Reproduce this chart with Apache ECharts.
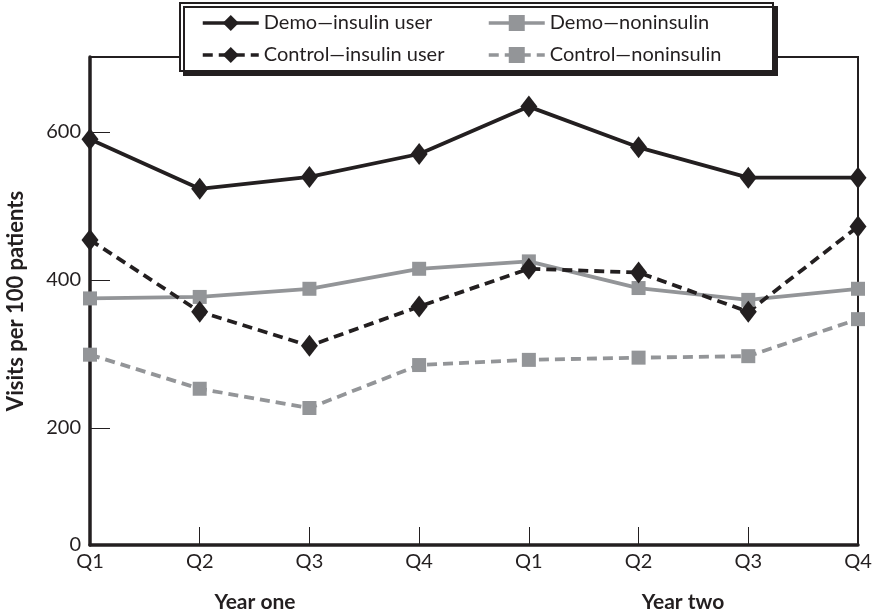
<!DOCTYPE html>
<html>
<head>
<meta charset="utf-8">
<script src="https://cdn.jsdelivr.net/npm/echarts@6/dist/echarts.min.js"></script>
<style>
  html, body { margin: 0; padding: 0; background: #fff; }
</style>
</head>
<body>
<div id="main" style="width: 873px;height:616px;"></div>
<script>
// categories and values
var quarters = ["Q1", "Q2", "Q3", "Q4", "Q1", "Q2", "Q3", "Q4"];
var yearLabels = ["Year one", "Year two"];
var demoInsulin = [590, 523, 539, 570, 634, 579, 538, 538];
var demoNoninsulin = [375, 377, 388, 415, 425, 389, 373, 388];
var controlInsulin = [454, 357, 311, 364, 415, 410, 357, 472];
var controlNoninsulin = [299, 253, 227, 285, 292, 295, 297, 347];
// the printed axis is squeezed below 200: its "0" sits where ~42 would be
var axisFloor = 42;
var axisTop = 701;
var yTicks = [200, 400, 600];

var black = "#231f20";
var gray = "#939598";
var font = "Lato";

var myChart = echarts.init(document.getElementById("main"));

function mkSeries(name, data, color, dashed, symbol, size) {
  return {
    name: name,
    type: "line",
    data: data,
    symbol: symbol,
    symbolSize: size,
    showSymbol: true,
    color: color,
    itemStyle: { color: color },
    lineStyle: { color: color, width: 3.8, type: dashed ? [10, 6] : "solid" },
    z: 3
  };
}

var legendText = { fontFamily: font, fontSize: 20, color: black };

var option = {
  animation: false,
  grid: {
    left: 90,
    right: 15,
    top: 57,
    bottom: 71,
    show: true,
    borderColor: black,
    borderWidth: 2,
    containLabel: false,
    outerBoundsMode: "none"
  },
  legend: [
    {
      data: ["Demo—insulin user", "Control—insulin user"],
      orient: "vertical",
      left: 196,
      top: 8,
      itemWidth: 56,
      itemHeight: 20,
      itemGap: 12,
      lineStyle: { width: 3.5 },
      textStyle: legendText,
      z: 7
    },
    {
      data: ["Demo—noninsulin", "Control—noninsulin"],
      orient: "vertical",
      left: 482,
      top: 8,
      itemWidth: 56,
      itemHeight: 20,
      itemGap: 12,
      lineStyle: { width: 3.5 },
      textStyle: legendText,
      z: 7
    }
  ],
  graphic: [
    {
      type: "rect",
      z: 6,
      shape: { x: 180, y: 3, width: 593, height: 68 },
      style: {
        fill: "#fff",
        stroke: black,
        lineWidth: 2,
        shadowColor: black,
        shadowOffsetX: 4,
        shadowOffsetY: 4,
        shadowBlur: 0
      }
    },
    {
      type: "text",
      x: 255,
      y: 602,
      style: {
        text: yearLabels[0],
        font: "bold 21px " + font,
        fill: black,
        align: "center",
        verticalAlign: "middle"
      }
    },
    {
      type: "text",
      x: 683,
      y: 602,
      style: {
        text: yearLabels[1],
        font: "bold 21px " + font,
        fill: black,
        align: "center",
        verticalAlign: "middle"
      }
    }
  ],
  xAxis: {
    type: "category",
    boundaryGap: false,
    data: quarters,
    axisLine: { lineStyle: { color: black, width: 3.5 } },
    axisTick: { inside: true, length: 18, lineStyle: { color: black, width: 1 } },
    axisLabel: { fontFamily: font, fontSize: 20, color: black, margin: 7 },
    splitLine: { show: false }
  },
  yAxis: {
    type: "value",
    min: axisFloor,
    max: axisTop,
    name: "Visits per 100 patients",
    nameLocation: "middle",
    nameGap: 63,
    nameTextStyle: { fontFamily: font, fontSize: 22, fontWeight: "bold", color: black },
    axisLine: { show: true, lineStyle: { color: black, width: 3.5 } },
    axisTick: {
      show: true,
      inside: true,
      length: 20,
      customValues: yTicks,
      lineStyle: { color: black, width: 1 }
    },
    axisLabel: {
      fontFamily: font,
      fontSize: 20,
      color: black,
      margin: 9,
      customValues: [axisFloor].concat(yTicks),
      formatter: function (v) {
        return v === axisFloor ? "0" : String(v);
      }
    },
    splitLine: { show: false }
  },
  series: [
    mkSeries("Demo—insulin user", demoInsulin, black, false, "diamond", [17, 22]),
    mkSeries("Demo—noninsulin", demoNoninsulin, gray, false, "rect", 14),
    mkSeries("Control—insulin user", controlInsulin, black, true, "diamond", [17, 22]),
    mkSeries("Control—noninsulin", controlNoninsulin, gray, true, "rect", 14)
  ]
};

myChart.setOption(option);
</script>
</body>
</html>
